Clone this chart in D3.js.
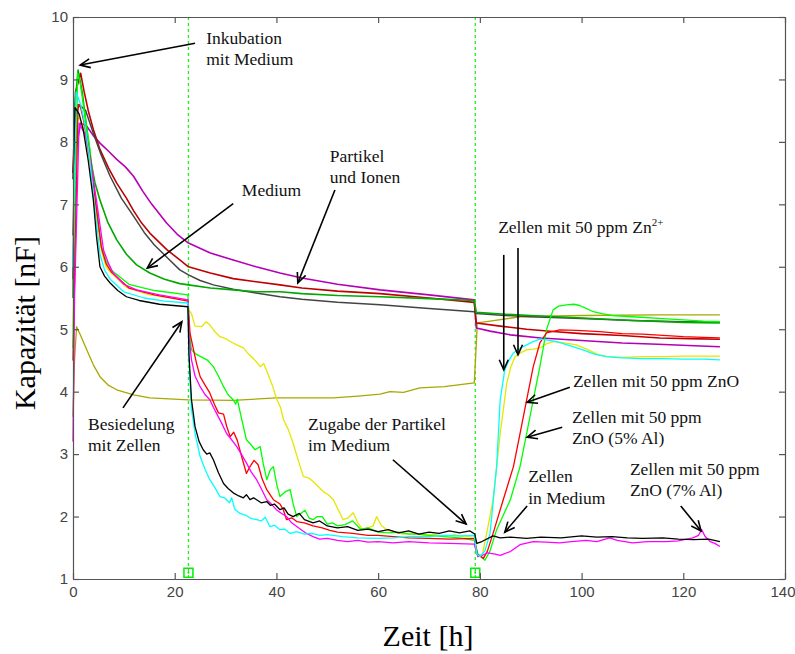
<!DOCTYPE html>
<html><head><meta charset="utf-8">
<script src="https://cdn.jsdelivr.net/npm/d3@7"></script>
<style>body{margin:0;background:#fff}svg{display:block}</style>
</head><body><svg id="c" width="795" height="654"></svg>
<script>
const xTicks = [0,20,40,60,80,100,120,140];
const yTicks = [1,2,3,4,5,6,7,8,9,10];
const eventTimes = [22.7, 79.1];

// Upper group (no cells)
const partikelIonenMagenta = [[0,5.8],[0.4,7.8],[1.5,8.3],[2.7,8.25],[4,8.1],[5.3,7.98],[7,7.85],[8.6,7.72],[10.3,7.6],[11.9,7.45],[13.8,7.2],[15.5,7.0],[18.4,6.7],[20.5,6.52],[22.7,6.38],[27,6.22],[31.5,6.11],[36,6.0],[40.7,5.9],[45,5.82],[52,5.72],[60.4,5.63],[70,5.55],[78.9,5.47],[79.3,5.02],[82,4.97],[86,4.91],[92,4.86],[100,4.82],[108,4.78],[115,4.76],[121,4.74],[127.2,4.72]];
const partikelRed = [[0,7.5],[0.5,8.8],[1.5,9.1],[2.2,8.8],[3,8.5],[4,8.2],[5.3,7.88],[7,7.58],[8.6,7.34],[10.5,7.1],[11.9,6.9],[13.5,6.7],[15.1,6.54],[18.5,6.27],[21,6.11],[22.7,6.0],[27,5.9],[31.5,5.81],[36,5.76],[40.7,5.71],[45,5.66],[52,5.61],[60.4,5.57],[70,5.5],[78.9,5.43],[79.3,5.1],[84,5.05],[89.2,5.0],[95,4.96],[100,4.93],[108,4.9],[115.4,4.86],[121,4.85],[127.2,4.84]];
const mediumGray = [[0,6.5],[0.5,8.4],[1.2,8.6],[2.5,8.5],[4,8.14],[5.5,7.8],[7.3,7.45],[9.5,7.1],[11.9,6.81],[14,6.55],[16,6.35],[18.5,6.15],[21,5.95],[22.7,5.87],[25,5.78],[27.6,5.71],[31.5,5.64],[36,5.58],[40.7,5.52],[45,5.48],[52,5.43],[60.4,5.39],[70,5.33],[78.9,5.28],[79.3,5.25],[85,5.22],[90,5.2],[100,5.17],[110,5.14],[120,5.12],[127.2,5.11]];
const mediumGreen = [[0,5.5],[0.4,8.6],[1.0,9.15],[1.8,8.8],[2.5,8.35],[3.5,7.7],[4.3,7.35],[5.3,7.07],[6.8,6.72],[8.6,6.43],[10.5,6.2],[12.5,6.03],[15.1,5.9],[18,5.8],[21,5.73],[22.7,5.71],[27,5.66],[31.5,5.63],[36,5.6],[40.7,5.6],[45,5.57],[52,5.54],[60.4,5.52],[70,5.49],[78.9,5.46],[79.3,5.27],[85,5.24],[90,5.22],[100,5.18],[110,5.14],[120,5.11],[127.2,5.1]];
const olive = [[0,3.6],[0.3,4.5],[0.7,5.04],[1.5,4.9],[2.7,4.67],[4,4.43],[5.3,4.24],[7,4.1],[8.6,4.03],[11.9,3.95],[15.1,3.9],[22.7,3.87],[31.5,3.86],[40,3.9],[51.2,3.9],[56,3.93],[60.4,3.96],[62.3,4.0],[65,3.99],[68.2,4.06],[73,4.08],[78.9,4.14],[79.2,4.6],[79.5,5.1],[82,5.13],[88,5.2],[100,5.22],[115,5.23],[127.2,5.23]];

// Cell experiments
const cellBlack = [[0,7.4],[0.4,8.55],[1.2,8.45],[2,8.2],[3,7.7],[4,7.07],[4.6,6.5],[5.3,6.0],[6.2,5.85],[7.3,5.74],[8.8,5.62],[10.5,5.52],[13,5.46],[17,5.4],[22.6,5.36],[22.8,4.6],[23.3,3.87],[24,3.44],[24.8,3.2],[25.6,3.07],[26.3,3.0],[26.9,3.02],[27.6,2.91],[28.6,2.7],[29.6,2.53],[30.5,2.45],[31.5,2.38],[32.6,2.33],[33.5,2.3],[34.1,2.35],[34.8,2.27],[35.5,2.3],[36.1,2.27],[37,2.22],[38.1,2.24],[38.8,2.18],[39.6,2.2],[40.7,2.11],[41.5,2.14],[42.3,2.04],[43.3,2.0],[44.5,2.05],[45.5,1.95],[47.2,1.9],[48.5,1.93],[50,1.85],[52,1.82],[54,1.84],[56,1.78],[58,1.8],[60,1.76],[62,1.79],[64,1.74],[66,1.77],[68,1.72],[70,1.75],[72,1.73],[74,1.77],[76,1.74],[78,1.77],[79,1.72],[79.4,1.57],[80.4,1.6],[82.6,1.69],[84,1.66],[86,1.67],[89.2,1.65],[92,1.67],[96,1.66],[100,1.69],[103,1.67],[106,1.68],[109,1.66],[112,1.65],[116,1.66],[119,1.64],[122,1.63],[125,1.64],[127.2,1.6]];
const cellCyan = [[0,6.0],[0.6,8.8],[1.5,8.6],[2.3,8.3],[3.2,7.8],[4.2,7.0],[5.3,6.2],[6.2,5.95],[7.3,5.8],[10,5.6],[14,5.5],[18,5.45],[22.6,5.42],[22.8,4.5],[23.3,3.71],[24,3.33],[25,2.96],[26,2.75],[26.9,2.59],[28,2.45],[28.9,2.32],[29.8,2.3],[30.8,2.22],[31.2,2.3],[31.8,2.12],[32.8,2.05],[34,2.02],[35,1.97],[36.1,1.95],[37,1.93],[37.8,1.99],[38.7,1.84],[39.6,1.86],[40.7,1.79],[41.6,1.8],[42.7,1.73],[44,1.76],[45.5,1.72],[47,1.73],[48.5,1.7],[50,1.71],[53,1.68],[56,1.66],[60,1.65],[63,1.66],[66,1.68],[70,1.68],[73,1.7],[76,1.69],[78.9,1.7],[79.4,1.4],[80,1.36],[81,1.45],[82,1.73],[83.3,2.8],[84,3.87],[84.9,4.35],[85.7,4.5],[86.6,4.62],[88,4.7],[89.2,4.75],[90.5,4.8],[91.8,4.84],[93,4.83],[95.1,4.8],[97.5,4.74],[100.3,4.67],[102.5,4.6],[104.9,4.56],[108,4.54],[112,4.53],[116,4.53],[120,4.52],[124,4.52],[127.2,4.51]];
const cellYellow = [[0,5.0],[0.8,8.4],[1.5,8.35],[2.2,8.2],[3.5,7.6],[4.5,6.9],[5.6,6.25],[6.5,6.0],[7.5,5.9],[10.5,5.67],[15,5.55],[22.6,5.47],[22.8,5.3],[23.3,5.25],[24,5.05],[25.3,5.04],[26.2,5.12],[26.9,5.07],[28,4.95],[28.9,4.88],[30,4.85],[31,4.8],[32.2,4.75],[33.5,4.7],[34.3,4.62],[35.1,4.56],[35.8,4.5],[36.8,4.4],[37.5,4.45],[38.4,4.27],[39.2,4.1],[40.1,3.87],[40.8,3.75],[41.4,3.55],[42.3,3.4],[43.3,3.17],[44.3,2.9],[45.3,2.64],[46.3,2.62],[47.2,2.56],[48.2,2.48],[49.2,2.4],[50.2,2.35],[51.2,2.27],[52.2,2.1],[53.1,1.95],[54.1,1.98],[55.1,2.06],[56,1.9],[57,1.79],[58,1.82],[59,1.85],[59.7,2.0],[60.6,1.86],[61.7,1.79],[63,1.75],[65,1.72],[67,1.74],[69,1.7],[71,1.72],[73,1.68],[75,1.71],[77,1.67],[78.9,1.7],[79.6,1.36],[80.5,1.4],[81.5,1.8],[82.6,2.27],[84,3.33],[85.3,4.14],[86.1,4.4],[86.9,4.56],[88,4.62],[89.2,4.67],[90.5,4.68],[91.8,4.7],[93,4.76],[94.4,4.8],[96,4.79],[97.5,4.77],[99,4.75],[101,4.68],[103,4.6],[104.9,4.56],[108,4.55],[112,4.56],[116,4.56],[120,4.57],[124,4.57],[127.2,4.57]];
const cellRed = [[0,4.5],[1.0,8.6],[1.5,8.55],[2.2,8.3],[3.5,7.7],[4.5,7.0],[5.6,6.3],[6.5,6.05],[7.5,5.92],[11,5.66],[16,5.55],[22.6,5.45],[22.8,5.2],[23,4.94],[23.7,4.67],[24.3,4.45],[25,4.24],[26,4.1],[26.9,3.98],[27.8,3.8],[28.6,3.66],[29.6,3.64],[30.2,3.45],[30.9,3.28],[31.6,3.35],[32.3,3.22],[33.2,2.95],[34.1,2.69],[34.8,2.8],[35.6,2.9],[36.4,2.83],[37.2,2.6],[38.1,2.43],[39.4,2.27],[40.7,2.2],[41.3,2.12],[42,1.95],[43,1.98],[44,1.92],[45.5,1.9],[47.2,1.85],[49,1.82],[50.5,1.78],[52,1.75],[55,1.73],[58,1.7],[60,1.7],[63,1.68],[66,1.66],[70,1.65],[74,1.64],[78.9,1.65],[79.5,1.4],[80.7,1.33],[81.5,1.45],[82.6,1.73],[84.6,2.27],[86.6,2.8],[87.9,3.33],[89.2,3.87],[90.5,4.4],[91.8,4.78],[93.1,4.94],[95.7,4.99],[99,4.98],[103.6,4.96],[108,4.93],[112,4.92],[116,4.9],[120,4.88],[124,4.87],[127.2,4.86]];
const cellGreen = [[0,4.7],[0.9,9.1],[1.5,8.9],[2.2,8.5],[3.3,7.9],[4.4,7.1],[5.5,6.35],[6.5,6.1],[7.5,5.95],[11,5.72],[16,5.62],[22.6,5.55],[22.8,5.0],[23.3,4.67],[24.2,4.6],[25.6,4.54],[26.5,4.5],[27.6,4.4],[28.6,4.25],[29.6,4.08],[30.5,3.95],[31.5,3.87],[32,3.8],[32.3,3.88],[33.2,3.55],[34.1,3.23],[35,3.15],[35.8,3.07],[36.8,3.12],[37.4,2.85],[38.1,2.59],[38.8,2.75],[39.4,2.8],[40.1,2.5],[40.7,2.32],[41.8,2.4],[42.7,2.43],[43.3,2.2],[44,2.0],[44.8,2.05],[45.6,2.1],[46.4,1.98],[47.2,1.95],[48,2.0],[49,2.0],[50,1.88],[51,1.9],[52,1.85],[53.5,1.87],[55,1.93],[56.5,1.8],[58,1.82],[60,1.75],[62,1.74],[64,1.75],[66,1.72],[68,1.72],[70,1.7],[73,1.68],[76,1.66],[78.9,1.62],[79.6,1.4],[81,1.3],[82,1.45],[83.3,1.79],[86,2.27],[87.9,2.8],[89.2,3.33],[90.5,3.87],[91.8,4.4],[93.1,4.99],[94.4,5.31],[95.5,5.37],[97,5.39],[98.5,5.4],[99.6,5.38],[101,5.33],[102.3,5.28],[104,5.25],[106,5.22],[110,5.2],[116,5.17],[120,5.15],[124,5.13],[127.2,5.12]];
const cellMagenta = [[0,3.2],[0.3,5.5],[1.2,8.3],[2.5,8.1],[3.6,7.6],[4.6,7.07],[6,6.27],[7,6.05],[7.9,5.9],[10,5.72],[12.5,5.63],[17,5.55],[22.6,5.47],[22.8,4.9],[23.3,4.51],[24,4.25],[25,4.08],[26,3.95],[26.9,3.87],[27.6,3.75],[28.3,3.64],[29.2,3.5],[30.2,3.33],[31,3.25],[32.2,3.12],[33.1,3.0],[34.1,2.86],[35,2.72],[36.1,2.59],[37,2.45],[38.1,2.27],[39,2.2],[40,2.11],[41,2.05],[42,2.0],[43,1.9],[44,1.84],[45,1.78],[45.9,1.73],[47.2,1.68],[48.5,1.64],[50,1.65],[52,1.62],[54,1.6],[56,1.62],[58,1.59],[60,1.6],[63,1.58],[66,1.6],[70,1.58],[74,1.57],[78.9,1.56],[79.6,1.36],[80.5,1.38],[81.5,1.42],[83,1.4],[84,1.38],[86,1.44],[87.9,1.55],[90.5,1.6],[93,1.59],[95.7,1.58],[98,1.6],[100.9,1.62],[103,1.6],[105.5,1.66],[107,1.62],[110,1.58],[113,1.6],[116.6,1.6],[119,1.61],[121.9,1.66],[123,1.7],[123.6,1.79],[124.3,1.68],[125.3,1.6],[126.2,1.57],[127.2,1.52]];

// Annotation texts and arrows (data coordinates)
const labels = [
  {t:26.2, v:9.57, lines:["Inkubation","mit Medium"]},
  {t:33.2, v:7.13, lines:["Medium"]},
  {t:50.5, v:7.68, lines:["Partikel","und Ionen"]},
  {t:2.95, v:3.39, lines:["Besiedelung","mit Zellen"]},
  {t:46.2, v:3.39, lines:["Zugabe der Partikel","im Medium"]},
  {t:83.6, v:6.54, lines:["Zellen mit 50 ppm Zn"], sup:"2+"},
  {t:98.3, v:4.07, lines:["Zellen mit 50 ppm ZnO"]},
  {t:98.1, v:3.50, lines:["Zellen mit 50 ppm","ZnO (5% Al)"]},
  {t:89.5, v:2.55, lines:["Zellen","in Medium"]},
  {t:109.5, v:2.67, lines:["Zellen mit 50 ppm","ZnO (7% Al)"]}
];
const arrows = [
  [[24.0,9.58],[1.4,9.23]],
  [[31.5,7.01],[14.6,5.98]],
  [[51.5,7.23],[44.2,5.74]],
  [[9.83,3.74],[21.4,5.12]],
  [[62.9,2.91],[77.3,1.88]],
  [[84.7,6.19],[84.7,4.35]],
  [[87.5,6.30],[87.5,4.59]],
  [[97.7,4.07],[89.3,3.83]],
  [[96.2,3.43],[89.3,3.27]],
  [[89.3,2.17],[84.9,1.75]],
  [[119.5,2.17],[123.5,1.77]]
];

const series = [
  {data: olive, color:"#a8a800", w:1.3},
  {data: partikelIonenMagenta, color:"#b400b4", w:1.6},
  {data: partikelRed, color:"#c00000", w:1.6},
  {data: mediumGray, color:"#444444", w:1.5},
  {data: mediumGreen, color:"#00a800", w:1.6},
  {data: cellYellow, color:"#e6e600", w:1.3},
  {data: cellGreen, color:"#00ff00", w:1.3},
  {data: cellRed, color:"#ff0000", w:1.3},
  {data: cellMagenta, color:"#ff00ff", w:1.3},
  {data: cellCyan, color:"#00ffff", w:1.3},
  {data: cellBlack, color:"#000000", w:1.3}
];

const svg = d3.select("#c");
const x = d3.scaleLinear().domain([0,140]).range([73,785]);
const y = d3.scaleLinear().domain([1,10]).range([579,17]);
const axisColor = "#555";
const tickFont = "'Liberation Sans', Arial, sans-serif";
const serif = "'Liberation Serif', 'Times New Roman', serif";

// event dashed lines
svg.selectAll("line.ev").data(eventTimes).enter().append("line")
  .attr("x1", d=>x(d)).attr("x2", d=>x(d)).attr("y1", y(10)).attr("y2", y(1))
  .attr("stroke","#22ee22").attr("stroke-width",1.3).attr("stroke-dasharray","3,3");

const line = d3.line().x(d=>x(d[0])).y(d=>y(d[1]));
svg.selectAll("path.s").data(series).enter().append("path")
  .attr("d", d=>line(d.data)).attr("fill","none")
  .attr("stroke", d=>d.color).attr("stroke-width", d=>d.w)
  .attr("stroke-linejoin","round");

// event markers
svg.selectAll("rect.ev").data(eventTimes).enter().append("rect")
  .attr("x", d=>x(d)-4.5).attr("y", y(1.1)-4.5).attr("width",9).attr("height",9)
  .attr("fill","none").attr("stroke","#00ee00").attr("stroke-width",1.5);
svg.selectAll("circle.ev").data(eventTimes).enter().append("circle")
  .attr("cx", d=>x(d)).attr("cy", y(1.1)).attr("r",1).attr("fill","#00ee00");

// axes
function styleAxis(g){
  g.selectAll("path.domain").attr("stroke",axisColor).attr("stroke-width",1.2);
  g.selectAll(".tick line").attr("stroke",axisColor).attr("stroke-width",1.2);
  g.selectAll(".tick text").attr("fill","#444").style("font-family",tickFont).style("font-size","15px");
}
const xAxisG = svg.append("g").attr("transform",`translate(0,${y(1)})`)
  .call(d3.axisBottom(x).tickValues(xTicks).tickSize(-6).tickSizeOuter(0).tickPadding(7).tickFormat(d3.format("d")))
  .call(styleAxis);
xAxisG.selectAll(".tick text").filter(d=>d===140).attr("text-anchor","end").attr("x",10);
svg.append("g").attr("transform",`translate(0,${y(10)})`)
  .call(d3.axisTop(x).tickValues(xTicks).tickSize(-6).tickSizeOuter(0).tickFormat(""))
  .call(styleAxis);
svg.append("g").attr("transform",`translate(${x(0)},0)`)
  .call(d3.axisLeft(y).tickValues(yTicks).tickSize(-6).tickSizeOuter(0).tickPadding(5).tickFormat(d3.format("d")))
  .call(styleAxis);
svg.append("g").attr("transform",`translate(${x(140)},0)`)
  .call(d3.axisRight(y).tickValues(yTicks).tickSize(-6).tickSizeOuter(0).tickFormat(""))
  .call(styleAxis);

// axis titles
svg.append("text").attr("transform","translate(35,323) rotate(-90)")
  .attr("text-anchor","middle").style("font-family",serif).style("font-size","30px").text("Kapazität [nF]");
svg.append("text").attr("x",428).attr("y",646)
  .attr("text-anchor","middle").style("font-family",serif).style("font-size","30px").text("Zeit [h]");

// annotations
labels.forEach(l=>{
  l.lines.forEach((s,i)=>{
    const t = svg.append("text").attr("x",x(l.t)).attr("y",y(l.v)+i*21.5)
      .style("font-family",serif).style("font-size","17.5px").attr("fill","#111").text(s);
    if (l.sup && i===l.lines.length-1){
      t.append("tspan").attr("dy",-7).style("font-size","11px").text(l.sup);
    }
  });
});
arrows.forEach(a=>{
  const x1=x(a[0][0]), y1=y(a[0][1]), x2=x(a[1][0]), y2=y(a[1][1]);
  const ang = Math.atan2(y2-y1, x2-x1), L=11, h=0.42;
  svg.append("line").attr("x1",x1).attr("y1",y1).attr("x2",x2).attr("y2",y2)
    .attr("stroke","#000").attr("stroke-width",1.6);
  const p1=[x2-L*Math.cos(ang-h), y2-L*Math.sin(ang-h)];
  const p2=[x2-L*Math.cos(ang+h), y2-L*Math.sin(ang+h)];
  svg.append("path").attr("d",`M${p1}L${x2},${y2}L${p2}`).attr("fill","none")
    .attr("stroke","#000").attr("stroke-width",1.6);
});
</script></body></html>
